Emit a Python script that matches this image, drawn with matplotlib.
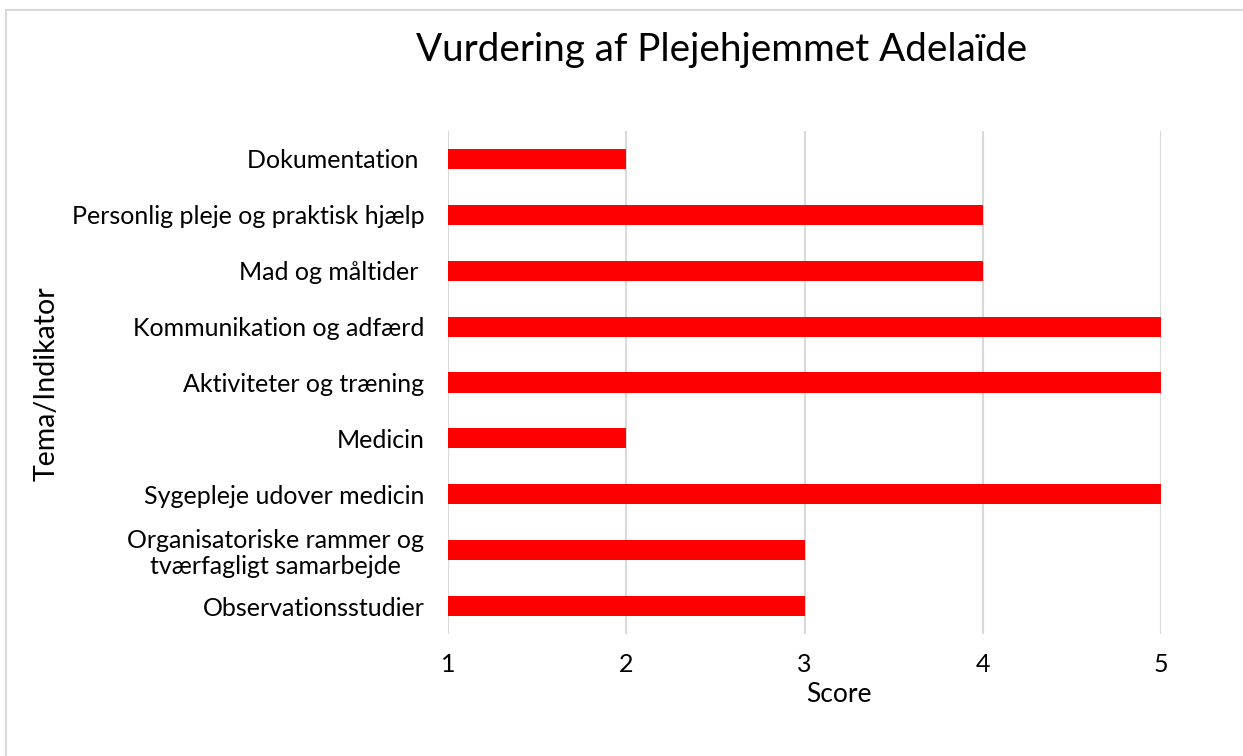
import matplotlib
matplotlib.use("Agg")
import matplotlib.pyplot as plt
from matplotlib.lines import Line2D

categories = [
    "Dokumentation ",
    "Personlig pleje og praktisk hjælp",
    "Mad og måltider ",
    "Kommunikation og adfærd",
    "Aktiviteter og træning",
    "Medicin",
    "Sygepleje udover medicin",
    "Organisatoriske rammer og\ntværfagligt samarbejde",
    "Observationsstudier",
]
scores = [2, 4, 4, 5, 5, 2, 5, 3, 3]
x_ticks = [1, 2, 3, 4, 5]
title = "Vurdering af Plejehjemmet Adelaïde"
xlabel = "Score"
ylabel = "Tema/Indikator"

plt.rcParams['font.family'] = ['Lato', 'DejaVu Sans']

W, H = 1243, 756
fig = plt.figure(figsize=(W / 100, H / 100), dpi=100)
ax = fig.add_axes([448 / W, 122 / H, 713 / W, 503 / H])

pos = list(range(len(categories)))
base = 1
ax.barh(pos, [s - base for s in scores], left=base, height=0.36, color="#FF0000", zorder=3)
ax.set_ylim(len(categories) - 0.5, -0.5)
ax.set_xlim(1, 5)
ax.set_xticks(x_ticks)
ax.set_xticklabels([str(t) for t in x_ticks])
ax.set_yticks(pos)
ax.set_yticklabels(categories, multialignment="center", linespacing=1.15)
ax.tick_params(axis="both", length=0, labelsize=18, colors="black")
ax.tick_params(axis="x", pad=14)
ax.tick_params(axis="y", pad=17)
ax.grid(axis="x", color="#d9d9d9", linewidth=1.5, zorder=0)
for s in ax.spines.values():
    s.set_visible(False)

fig.text(839 / W, 1 - 694 / H, xlabel, fontsize=19, ha="center", va="center")
fig.text(47 / W, 1 - 384 / H, ylabel, fontsize=20.5, ha="center", va="center", rotation=90)
fig.text(721.5 / W, 1 - 50 / H, title, fontsize=27.8, ha="center", va="center")

# outer frame (left and top edges)
fig.add_artist(Line2D([6 / W, 6 / W], [0, 1 - 10 / H], color="#d9d9d9", linewidth=1.5, transform=fig.transFigure))
fig.add_artist(Line2D([6 / W, 1], [1 - 10 / H, 1 - 10 / H], color="#d9d9d9", linewidth=1.5, transform=fig.transFigure))

fig.savefig("out.png", dpi=100)
